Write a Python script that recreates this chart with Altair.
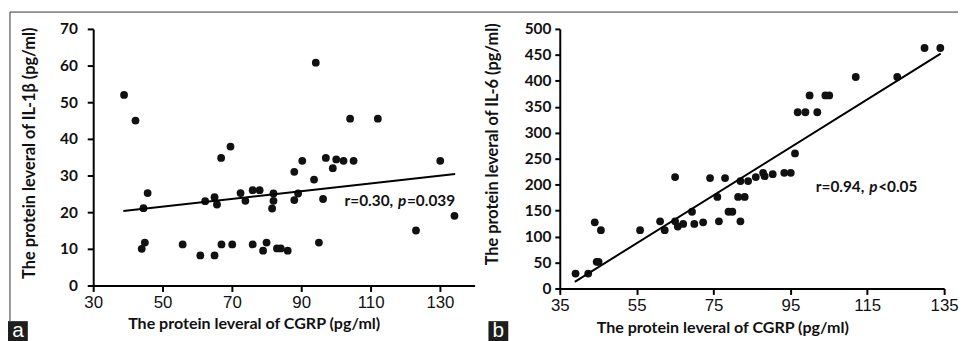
import altair as alt
import pandas as pd

# ---------------- Panel a: CGRP vs IL-1beta ----------------
a_cgrp = [38.9, 42.2, 44.5, 45.7, 44.0, 44.9, 55.8, 60.9, 62.3, 65.0, 65.0, 65.7,
          66.9, 67.0, 69.6, 70.1, 72.5, 73.9, 76.0, 78.0, 76.0, 79.0, 80.0, 82.0,
          82.0, 81.6, 83.0, 84.1, 86.1, 88.0, 88.0, 89.1, 90.3, 93.7, 94.2, 95.1,
          96.3, 97.1, 99.1, 100.1, 102.2, 104.1, 105.1, 112.1, 123.1, 130.1, 134.2]
a_il1b = [52.0, 45.0, 21.1, 25.2, 10.0, 11.7, 11.2, 8.2, 23.0, 24.1, 8.2, 22.1,
          34.8, 11.2, 37.9, 11.2, 25.2, 23.1, 26.0, 26.0, 11.2, 9.5, 11.7, 25.1,
          23.1, 21.0, 10.1, 10.1, 9.5, 31.0, 23.3, 25.1, 34.0, 28.9, 60.8, 11.7,
          23.6, 34.8, 32.0, 34.4, 34.0, 45.5, 34.0, 45.5, 15.0, 34.0, 19.0]
a_fit_x = [38.7, 134.4]
a_fit_y = [20.3, 30.4]
a_xticks = [30, 50, 70, 90, 110, 130]
a_yticks = [0, 10, 20, 30, 40, 50, 60, 70]
a_ann_pos = [102.5, 21.6]
a_ann_parts = ["r=0.30, ", "p", "=0.039"]

# ---------------- Panel b: CGRP vs IL-6 ----------------
b_cgrp = [39.1, 42.4, 44.1, 44.6, 45.1, 45.7, 55.9, 61.1, 62.3, 65.0, 65.0, 65.7,
          67.1, 69.4, 70.0, 72.3, 74.1, 76.0, 76.4, 78.0, 78.9, 79.9, 82.0, 81.4,
          83.1, 82.0, 84.0, 86.0, 87.9, 88.3, 90.4, 93.4, 95.1, 96.2, 96.9, 98.9,
          100.0, 102.0, 104.1, 105.1, 112.0, 122.8, 129.9, 134.0]
b_il6 = [28.6, 28.6, 127.5, 51.4, 51.4, 112.3, 112.3, 129.4, 112.3, 214.5, 129.4, 119.3,
         124.4, 147.8, 124.4, 127.5, 212.6, 176.4, 129.4, 212.6, 147.8, 147.8, 206.9, 176.4,
         176.4, 129.4, 206.9, 214.5, 222.7, 216.4, 220.2, 222.7, 222.7, 260.2, 339.5, 339.5,
         371.8, 339.5, 371.8, 371.8, 407.4, 407.4, 463.2, 463.2]
b_fit_x = [38.9, 134.1]
b_fit_y = [12.7, 452.4]
b_xticks = [35, 55, 75, 95, 115, 135]
b_yticks = [0, 50, 100, 150, 200, 250, 300, 350, 400, 450, 500]
b_ann_pos = [101.6, 186.2]
b_ann_parts = ["r=0.94, ", "p", "<0.05"]

x_title = "The protein leveral of CGRP (pg/ml)"
a_y_title = "The protein leveral of IL-1β (pg/ml)"
b_y_title = "The protein leveral of IL-6 (pg/ml)"
panel_labels = ["a", "b"]

TXT = "Lato"
ANN = 15.5
one = pd.DataFrame({"k": [0]})


def panel(xs, ys, fx, fy, xdom, xticks, ydom, yticks, ytitle, ann_pos, ann_parts,
          w, h, ytx, yty, xtx, xty, ylpad, ytick, label, box_x, frame):
    pts = pd.DataFrame({"cgrp": xs, "val": ys})
    fit = pd.DataFrame({"cgrp": fx, "val": fy})
    ann = pd.DataFrame({"cgrp": [ann_pos[0]], "val": [ann_pos[1]]})

    X = alt.X("cgrp:Q", scale=alt.Scale(domain=xdom, nice=False, zero=False),
              axis=alt.Axis(values=xticks, tickCount=40, title=x_title, titleX=xtx, titleY=xty,
                            titleAlign="center", titleBaseline="alphabetic",
                            titleFontSize=16.2, labelOverlap=False,
                            labelFlush=False, tickSize=6, labelPadding=3))
    Y = alt.Y("val:Q", scale=alt.Scale(domain=ydom, nice=False, zero=False),
              axis=alt.Axis(values=yticks, tickCount=40, title=ytitle, titleX=ytx, titleY=yty,
                            titleAngle=270, titleAlign="center", titleBaseline="middle",
                            titleFontSize=16.5, labelOverlap=False,
                            labelFlush=False, tickSize=ytick, labelPadding=ylpad))

    dots = alt.Chart(pts).mark_circle(size=62, color="#111", opacity=1).encode(x=X, y=Y)
    line = alt.Chart(fit).mark_line(color="#000", strokeWidth=2).encode(x="cgrp:Q", y="val:Q")

    t1 = alt.Chart(ann).mark_text(font=TXT, fontWeight="bold", fontSize=ANN, align="left",
                                  baseline="alphabetic", color="#111").encode(
        x="cgrp:Q", y="val:Q", text=alt.value(ann_parts[0]))
    t2 = alt.Chart(ann).mark_text(font=TXT, fontWeight="bold", fontStyle="italic", fontSize=ANN,
                                  align="left", baseline="alphabetic", dx=54, color="#111").encode(
        x="cgrp:Q", y="val:Q", text=alt.value(ann_parts[1]))
    t3 = alt.Chart(ann).mark_text(font=TXT, fontWeight="bold", fontSize=ANN, align="left",
                                  baseline="alphabetic", dx=63, color="#111").encode(
        x="cgrp:Q", y="val:Q", text=alt.value(ann_parts[2]))

    box = alt.Chart(one).mark_rect(color="#1e1e1e").encode(
        x=alt.value(box_x), x2=alt.value(box_x + 20), y=alt.value(295), y2=alt.value(322))
    lab = alt.Chart(one).mark_text(color="white", font="Liberation Sans", fontSize=21,
                                   align="center", baseline="alphabetic").encode(
        x=alt.value(box_x + 10), y=alt.value(311), text=alt.value(label))

    layers = [dots, line, t1, t2, t3, box, lab]
    if frame:
        vrule = alt.Chart(one).mark_rule(color="#333", strokeWidth=1).encode(
            x=alt.value(-84), y=alt.value(-17), y2=alt.value(295))
        hrule = alt.Chart(one).mark_rule(color="#333", strokeWidth=1).encode(
            x=alt.value(-84), x2=alt.value(873), y=alt.value(-17))
        layers += [vrule, hrule]
    return alt.layer(*layers).properties(width=w, height=h)


left = panel(a_cgrp, a_il1b, a_fit_x, a_fit_y, [30, 140], a_xticks, [0, 70], a_yticks,
             a_y_title, a_ann_pos, a_ann_parts, 385, 259,
             ytx=-64, yty=125, xtx=162, xty=43, ylpad=10, ytick=6,
             label=panel_labels[0], box_x=-86, frame=True)
right = panel(b_cgrp, b_il6, b_fit_x, b_fit_y, [35, 135], b_xticks, [0, 500], b_yticks,
              b_y_title, b_ann_pos, b_ann_parts, 388, 262,
              ytx=-68, yty=116, xtx=164, xty=44, ylpad=4, ytick=5,
              label=panel_labels[1], box_x=-72, frame=False)

chart = alt.hconcat(left, right, spacing=86, bounds="flush").properties(
    padding={"left": 0, "top": 1.5, "right": 0, "bottom": 0},
    background="white",
).configure_view(stroke=None).configure_axis(
    grid=False, domainColor="#000", domainWidth=2, tickColor="#000", tickWidth=2,
    labelColor="#111", titleColor="#111", titleFont=TXT, titleFontWeight="bold",
).configure_axisX(
    labelFont="Liberation Sans", labelFontSize=17, labelFontWeight="normal",
).configure_axisY(
    labelFont=TXT, labelFontSize=15.5, labelFontWeight="bold",
)

chart.save("out.html", embed_options={"renderer": "svg", "actions": False})
